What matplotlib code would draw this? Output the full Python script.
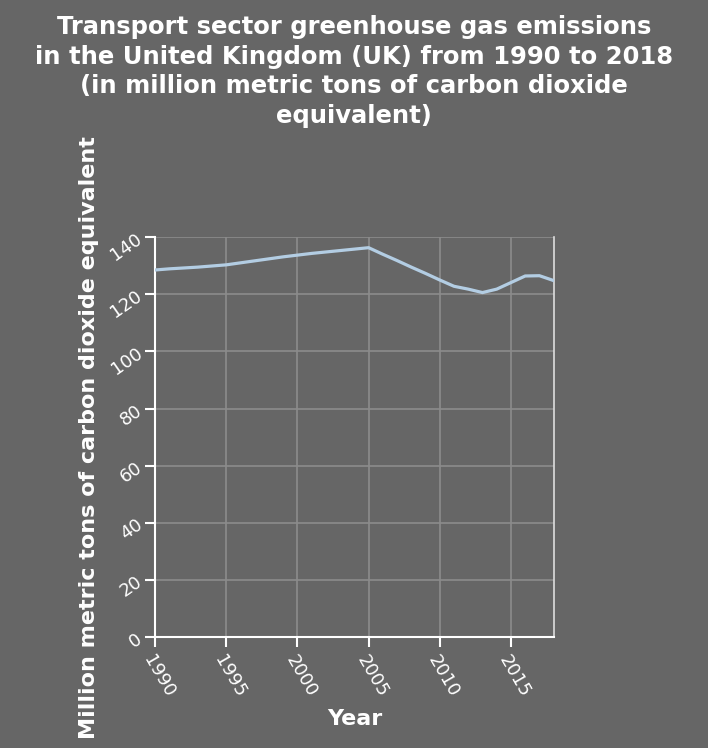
import matplotlib.pyplot as plt

# Datos
anios = list(range(1990, 2019))
emisiones = [128.5, 128.9, 129.2, 129.5, 129.9, 130.3, 131.0, 131.7, 132.4, 133.1,
             133.7, 134.3, 134.8, 135.3, 135.8, 136.3, 134.0, 131.8, 129.5, 127.3,
             125.0, 122.8, 121.8, 120.6, 121.8, 124.1, 126.4, 126.5, 124.8]

x_ticks = [1990, 1995, 2000, 2005, 2010, 2015]
y_ticks = [0, 20, 40, 60, 80, 100, 120, 140]

fondo = '#666666'
fig = plt.figure(figsize=(7.08, 7.48), dpi=100, facecolor=fondo)
ax = fig.add_axes([0.219, 0.148, 0.563, 0.535], facecolor=fondo)

ax.plot(anios, emisiones, color='#b3cde3', linewidth=2.3, zorder=3)

ax.set_xlim(1990, 2018)
ax.set_ylim(0, 140)
ax.set_xticks(x_ticks)
ax.set_yticks(y_ticks)
ax.grid(True, color='#8c8c8c', linewidth=1.2)
ax.set_axisbelow(True)

for lado in ['left', 'bottom']:
    ax.spines[lado].set_color('white')
    ax.spines[lado].set_linewidth(1.5)
ax.spines['right'].set_color('#dddddd')
ax.spines['right'].set_linewidth(1.2)
ax.spines['top'].set_visible(False)

ax.tick_params(colors='white', labelsize=13, length=7, width=1.5)
plt.setp(ax.get_xticklabels(), rotation=-60, ha='left', va='top', rotation_mode='anchor')
plt.setp(ax.get_yticklabels(), rotation=35, ha='right', va='center', rotation_mode='anchor')

ax.set_xlabel('Year', color='white', fontsize=16, fontweight='bold', labelpad=6)
ax.set_ylabel('Million metric tons of carbon dioxide equivalent', color='white',
              fontsize=16, fontweight='bold', labelpad=6)

fig.suptitle('Transport sector greenhouse gas emissions\nin the United Kingdom (UK) from 1990 to 2018\n'
             '(in million metric tons of carbon dioxide\nequivalent)',
             color='white', fontsize=17.5, fontweight='bold', y=0.980, linespacing=1.3)

fig.savefig('out.png', dpi=100, facecolor=fondo)
